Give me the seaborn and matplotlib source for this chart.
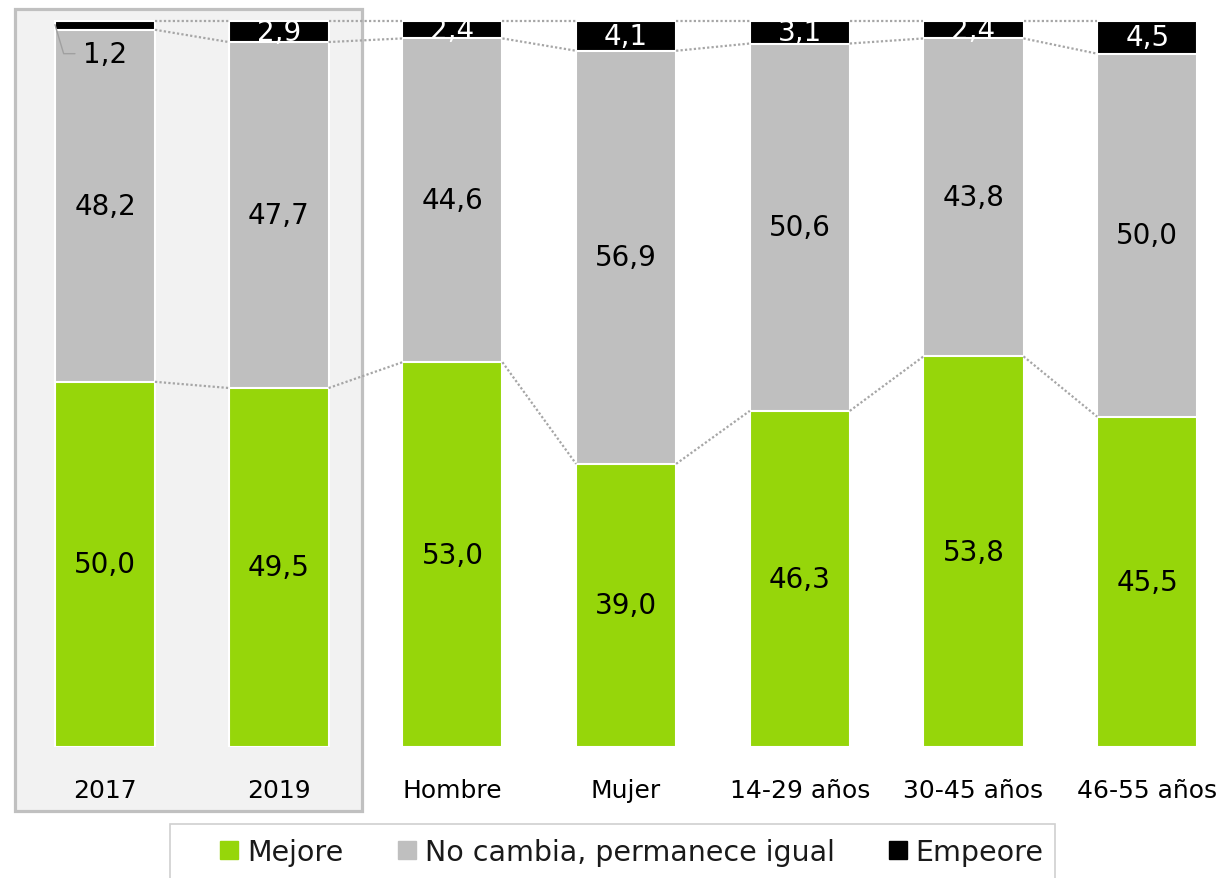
import numpy as np
import pandas as pd
import matplotlib
matplotlib.use('Agg')
import matplotlib.pyplot as plt
import matplotlib.patches as mpatches
import seaborn as sns

# datele graficului
categorii = ['2017', '2019', 'Hombre', 'Mujer', '14-29 años', '30-45 años', '46-55 años']
mejore = [50.0, 49.5, 53.0, 39.0, 46.3, 53.8, 45.5]
igual = [48.2, 47.7, 44.6, 56.9, 50.6, 43.8, 50.0]
empeore = [1.2, 2.9, 2.4, 4.1, 3.1, 2.4, 4.5]
serii = ['Mejore', 'No cambia, permanece igual', 'Empeore']
culori = ['#96d60a', '#bfbfbf', '#000000']

sns.set_theme(style='white')
plt.rcParams['font.family'] = ['DejaVu Sans']

bd = pd.DataFrame({'cat': categorii, 'mejore': mejore, 'igual': igual, 'empeore': empeore})
total = bd['mejore'] + bd['igual'] + bd['empeore']
# grafic 100% stivuit
bd['c1'] = bd['mejore'] / total * 100
bd['c2'] = (bd['mejore'] + bd['igual']) / total * 100
bd['c3'] = 100.0

fig = plt.figure(figsize=(12.27, 8.79), dpi=100)

# fundal gri pentru 2017-2019
fig.patches.append(mpatches.Rectangle((15 / 1227, 67 / 879), 347 / 1227, 802 / 879,
                                      transform=fig.transFigure, facecolor='#f2f2f2',
                                      edgecolor='#c0c0c0', linewidth=2.3, zorder=-5))
# chenarul legendei
fig.patches.append(mpatches.Rectangle((170 / 1227, -10 / 879), 885 / 1227, 64 / 879,
                                      transform=fig.transFigure, facecolor='white',
                                      edgecolor='#d0d0d0', linewidth=1.2, zorder=-5))

ax = fig.add_axes([0, 131 / 879, 1, 748 / 879])
ax.set_zorder(2)
ax.patch.set_alpha(0)
latime = 0.576
for col, c in zip(['c3', 'c2', 'c1'], culori[::-1]):
    sns.barplot(data=bd, x='cat', y=col, color=c, width=latime, saturation=1,
                edgecolor='white', linewidth=1.5, ax=ax, errorbar=None)

ax.set_xlim(-105 / 173.7, (1227 - 105) / 173.7)
ax.set_ylim(0, 100 * 748 / 726)
for s in ax.spines.values():
    s.set_visible(False)
ax.set_yticks([])
ax.set_xlabel('')
ax.set_ylabel('')
ax.tick_params(axis='x', length=0, pad=22, labelsize=18, labelcolor='black')

# linii punctate intre bare
h = latime / 2
for i in range(len(categorii) - 1):
    for col in ['c1', 'c2', 'c3']:
        ax.plot([i + h, i + 1 - h], [bd[col][i], bd[col][i + 1]], color='#a6a6a6',
                linestyle=(0, (1, 1)), linewidth=1.6, zorder=1)

# etichete
fs = 20
for i in range(len(categorii)):
    ax.text(i, bd['c1'][i] / 2, f'{mejore[i]:.1f}'.replace('.', ','), ha='center',
            va='center', fontsize=fs, color='black')
    ax.text(i, (bd['c1'][i] + bd['c2'][i]) / 2, f'{igual[i]:.1f}'.replace('.', ','),
            ha='center', va='center', fontsize=fs, color='black')
    if i == 0:
        ax.plot([-h, -h + 0.05, -h + 0.115], [99.5, 95.5, 95.5], color='#a0a0a0',
                linewidth=1, zorder=5)
        ax.text(0, 95.4, f'{empeore[i]:.1f}'.replace('.', ','), ha='center',
                va='center', fontsize=fs, color='black')
    else:
        ax.text(i, (bd['c2'][i] + 100) / 2, f'{empeore[i]:.1f}'.replace('.', ','),
                ha='center', va='center', fontsize=fs, color='white')

handles = [mpatches.Patch(color=c, label=l) for c, l in zip(culori, serii)]
leg = fig.legend(handles=handles, loc='center', ncol=3, frameon=False,
                 fontsize=20.5, handlelength=0.63, handleheight=0.63, handletextpad=0.32,
                 columnspacing=1.9, borderpad=0, borderaxespad=0, labelcolor='#1a1a1a')
leg.set_bbox_to_anchor((632 / 1227, 26 / 879), transform=fig.transFigure)

fig.savefig('out.png', dpi=100)
